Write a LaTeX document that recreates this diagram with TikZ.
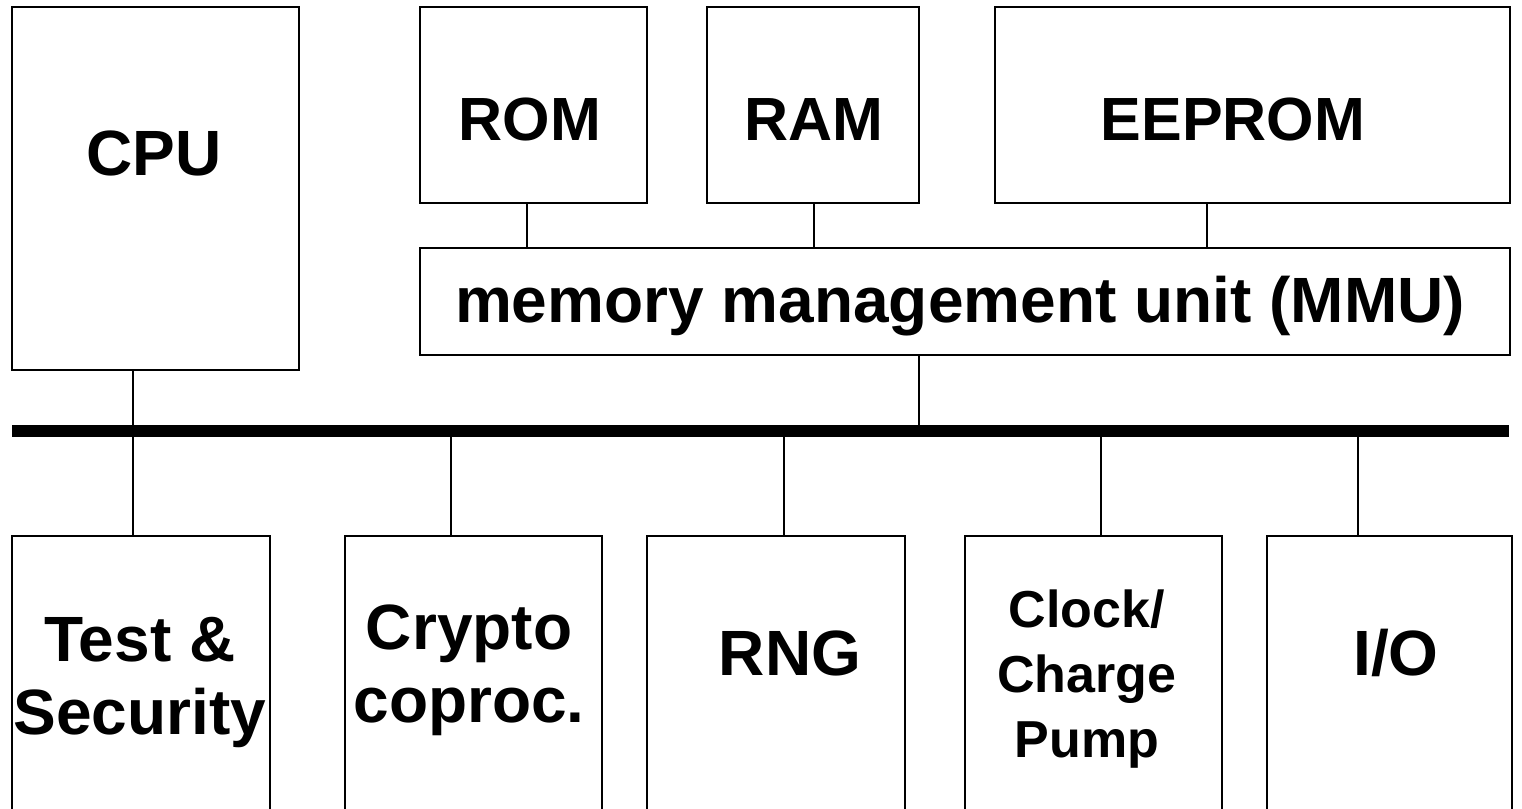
\documentclass[tikz,border=0pt]{standalone}
\usepackage{fontspec}
\setmainfont{Liberation Sans}
\begin{document}
\begin{tikzpicture}[x=1pt, y=-1pt,
  block/.style={draw, line width=2pt, inner sep=0pt},
  lbl/.style={inner sep=0pt, anchor=base, align=center},
  big/.style={font=\bfseries\fontsize{64}{73}\selectfont},
  mid/.style={font=\bfseries\fontsize{61}{70}\selectfont},
  small/.style={font=\bfseries\fontsize{52}{65}\selectfont},
  wire/.style={line width=1.5pt},
  bus/.style={line width=12pt}]
\useasboundingbox (0,0) rectangle (1522,808);
\clip (0,0) rectangle (1522,808);
\node[block, minimum width=287, minimum height=363] (cpu) at (155.5,188.5) {};
\node[block, minimum width=227, minimum height=196] (rom) at (533.5,105) {};
\node[block, minimum width=212, minimum height=196] (ram) at (813,105) {};
\node[block, minimum width=515, minimum height=196] (eeprom) at (1252.5,105) {};
\node[block, minimum width=1090, minimum height=107] (mmu) at (965,301.5) {};
\node[block, minimum width=258, minimum height=284] (test) at (141,678) {};
\node[block, minimum width=257, minimum height=284] (crypto) at (473.5,678) {};
\node[block, minimum width=258, minimum height=284] (rng) at (776,678) {};
\node[block, minimum width=257, minimum height=284] (clock) at (1093.5,678) {};
\node[block, minimum width=245, minimum height=284] (io) at (1389.5,678) {};
\node[lbl, big] (cputext) at (154,175) {CPU};
\node[lbl, mid] (romtext) at (530,140) {ROM};
\node[lbl, mid] (ramtext) at (814,140) {RAM};
\node[lbl, mid] (eepromtext) at (1233,140) {EEPROM};
\node[lbl, big] (mmutext) at (960,322) {memory management unit (MMU)};
\node[lbl, big] (testtext) at (140,734) {Test \&\\Security};
\node[lbl, big] (cryptotext) at (469,722) {Crypto\\coproc.};
\node[lbl, big] (rngtext) at (790,675) {RNG};
\node[lbl, small] (clocktext) at (1087,757) {Clock/\\Charge\\Pump};
\node[lbl, big] (iotext) at (1396,675) {I/O};
\coordinate (busl) at (12,431);
\coordinate (busr) at (1509,431);
\draw[bus] (busl) -- (busr);
\coordinate (romtap) at (527,203);
\coordinate (ramtap) at (814,203);
\coordinate (eepromtap) at (1207,203);
\draw[wire] (romtap) -- (romtap |- mmu.north);
\draw[wire] (ramtap) -- (ramtap |- mmu.north);
\draw[wire] (eepromtap) -- (eepromtap |- mmu.north);
\coordinate (cputap) at (133,431);
\coordinate (mmutap) at (919,431);
\draw[wire] (cputap |- cpu.south) -- (cputap);
\draw[wire] (mmutap |- mmu.south) -- (mmutap);
\coordinate (testtap) at (133,431);
\coordinate (cryptotap) at (451,431);
\coordinate (rngtap) at (784,431);
\coordinate (clocktap) at (1101,431);
\coordinate (iotap) at (1358,431);
\draw[wire] (testtap) -- (testtap |- test.north);
\draw[wire] (cryptotap) -- (cryptotap |- crypto.north);
\draw[wire] (rngtap) -- (rngtap |- rng.north);
\draw[wire] (clocktap) -- (clocktap |- clock.north);
\draw[wire] (iotap) -- (iotap |- io.north);
\end{tikzpicture}
\end{document}
